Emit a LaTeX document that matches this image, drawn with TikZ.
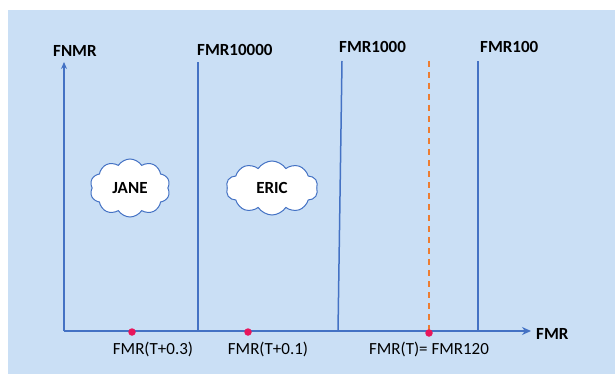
\documentclass[tikz,border=0pt]{standalone}
\usepackage{fontspec}
\setmainfont{Carlito}
\usetikzlibrary{shapes.symbols,arrows.meta}
\definecolor{paper}{RGB}{202,223,245}
\definecolor{axisblue}{RGB}{68,114,196}
\definecolor{markred}{RGB}{232,22,92}
\definecolor{dashorange}{RGB}{237,125,49}
\tikzset{
  axisline/.style={draw=axisblue,line width=1.5pt},
  threshold/.style={draw=axisblue,line width=1.5pt},
  predline/.style={draw=dashorange,line width=1.6pt,dash pattern=on 6pt off 5pt},
  marker/.style={circle,fill=markred,inner sep=0pt,minimum size=7.5pt},
  toplabel/.style={font=\fontsize{17}{19}\selectfont\bfseries,inner sep=0pt,anchor=base west},
  botlabel/.style={font=\fontsize{17}{19}\selectfont,inner sep=0pt,anchor=base},
  person/.style={cloud,cloud puffs=10,cloud puff arc=115,draw=axisblue,line width=1pt,fill=white,
    font=\fontsize{17}{19}\selectfont\bfseries,inner sep=0pt}
}
\begin{document}
\begin{tikzpicture}[x=1pt,y=-1pt]
  % page and paper
  \fill[white] (0,0) rectangle (615,377);
  \useasboundingbox (0,0) rectangle (615,377);
  \fill[paper] (8,10) rectangle (615,374);

  % reference points on the axes
  \coordinate (o) at (64,331);
  \coordinate (ytip) at (64,62);
  \coordinate (xtip) at (531,331);
  \coordinate (b1) at (198,331);  \coordinate (t1) at (198,62);
  \coordinate (b2) at (338,331);  \coordinate (t2) at (342,61);
  \coordinate (b3) at (478,331);  \coordinate (t3) at (478,61);
  \coordinate (dtop) at (429,61); \coordinate (dbot) at (429,331);

  % threshold lines
  \draw[threshold] (b1) -- (t1);
  \draw[threshold] (b2) -- (t2);
  \draw[threshold] (b3) -- (t3);
  \draw[predline] (dtop) -- (dbot);

  % axes
  \draw[axisline,-{Stealth[length=7pt,width=6pt]}] (o) -- (ytip);
  \draw[axisline,-{Stealth[length=9pt,width=8pt]}] (o) -- (xtip);

  % axis and threshold labels
  \node[toplabel] (lfnmr) at (53,57) {FNMR};
  \node[toplabel] (l10000) at (197,55.5) {FMR10000};
  \node[toplabel] (l1000) at (339,53) {FMR1000};
  \node[toplabel] (l100) at (480,53) {FMR100};
  \node[toplabel] (lfmr) at (536,339.5) {FMR};

  % operating points
  \node[marker] (p1) at (132,332) {};
  \node[marker] (p2) at (248,332) {};
  \node[marker] (p3) at (429,333) {};
  \node[botlabel] (q1) at (153,354) {FMR(T+0.3)};
  \node[botlabel] (q2) at (268,354) {FMR(T+0.1)};
  \node[botlabel] (q3) at (429,354) {FMR(T)= FMR120};

  % people
  \node[person,minimum width=80pt,minimum height=58pt] (jane) at (130,188) {JANE};
  \node[person,minimum width=92pt,minimum height=54pt] (eric) at (272,188) {ERIC};
\end{tikzpicture}
\end{document}
